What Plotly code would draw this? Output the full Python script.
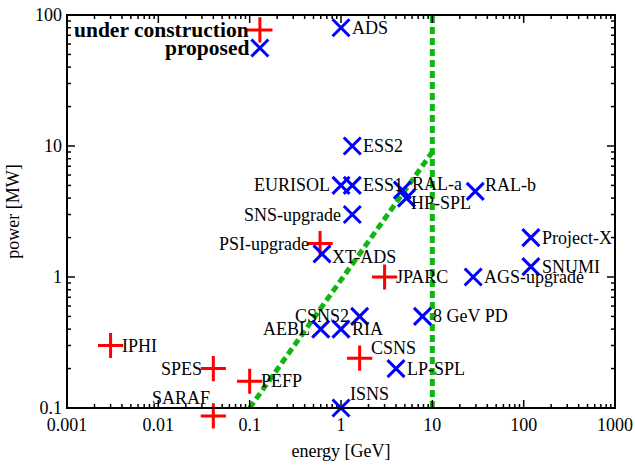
import math
import plotly.graph_objects as go

# ---- data ----
uc_names = ["IPHI", "SPES", "SARAF", "PEFP", "PSI-upgrade", "JPARC", "CSNS"]
uc_energy = [0.003, 0.04, 0.04, 0.1, 0.59, 3.0, 1.6]
uc_power = [0.3, 0.2, 0.087, 0.16, 1.8, 1.0, 0.24]

pr_names = ["ADS", "ESS2", "EURISOL", "ESS1", "SNS-upgrade", "XT-ADS", "RAL-a", "HP-SPL",
            "RAL-b", "Project-X", "SNUMI", "AGS-upgrade", "8 GeV PD", "LP-SPL", "ISNS",
            "CSNS2", "AEBL", "RIA"]
pr_energy = [1.0, 1.33, 1.0, 1.33, 1.33, 0.62, 4.7, 5.2,
             29.5, 120, 120, 28, 7.8, 4.0, 1.0,
             1.6, 0.6, 1.0]
pr_power = [80, 10, 5, 5, 3, 1.5, 4.6, 4.0,
            4.5, 2.0, 1.2, 1.0, 0.5, 0.2, 0.1,
            0.5, 0.4, 0.4]

diag_energy = [0.1, 10]
diag_power = [0.1, 9]
vline_energy = [10, 10]
vline_power = [0.1, 100]

x_ticks = [0.001, 0.01, 0.1, 1, 10, 100, 1000]
x_ticklabels = ["0.001", "0.01", "0.1", "1", "10", "100", "1000"]
y_ticks = [0.1, 1, 10, 100]
y_ticklabels = ["0.1", "1", "10", "100"]

legend_labels = ["under construction", "proposed"]

X_RANGE = [-3, 3]
Y_RANGE = [-1, 2]
x_minor = [m * 10 ** d for d in range(-3, 3) for m in range(2, 10)]
y_minor = [m * 10 ** d for d in range(-1, 2) for m in range(2, 10)]

# ---- layout geometry (px) ----
W, H = 635, 467
ML, MR, MT = 67, 20, 15
PLOT_BOTTOM = 408          # frame bottom
EXT_BOTTOM = 430           # extended area so points just below the frame stay visible
MB = H - EXT_BOTTOM
plot_h = EXT_BOTTOM - MT
frame_h = PLOT_BOTTOM - MT
frame_w = W - ML - MR
y_dom0 = (EXT_BOTTOM - PLOT_BOTTOM) / plot_h
px_per_dec = frame_h / (Y_RANGE[1] - Y_RANGE[0])
Y4_RANGE = [Y_RANGE[0] - (EXT_BOTTOM - PLOT_BOTTOM) / px_per_dec, Y_RANGE[1]]
MAJOR_LEN, MINOR_LEN = 8, 4

# ---- label placement (style, not data): anchor, xshift, yshift ----
R = ("left", 9, 0)
L = ("right", -9, 0)
uc_place = {"IPHI": R, "SPES": L, "SARAF": ("right", -1, 18), "PEFP": R,
            "PSI-upgrade": L, "JPARC": R, "CSNS": ("left", 9, 10)}
pr_place = {"ADS": R, "ESS2": R, "EURISOL": L, "ESS1": R, "SNS-upgrade": L,
            "XT-ADS": ("left", 8, -3), "RAL-a": ("left", 8, 6), "HP-SPL": ("left", 3, -5),
            "RAL-b": ("left", 8, 6), "Project-X": R, "SNUMI": R, "AGS-upgrade": R,
            "8 GeV PD": R, "LP-SPL": R, "ISNS": ("left", 7, 14),
            "CSNS2": L, "AEBL": L, "RIA": R}

FONT = "Liberation Serif"
FS = 18
RED = "#ff0000"
BLUE = "#0000ff"
GREEN = "#11b511"

# legend key position as fractions of the frame
LEG_FX = 0.352
LEG_FY = [0.962, 0.916]
leg_x = [10 ** (X_RANGE[0] + LEG_FX * (X_RANGE[1] - X_RANGE[0]))] * 2
leg_y = [10 ** (Y_RANGE[0] + f * (Y_RANGE[1] - Y_RANGE[0])) for f in LEG_FY]


def xfrac(v):
    return (math.log10(v) - X_RANGE[0]) / (X_RANGE[1] - X_RANGE[0])


def yfrac(v):
    return (math.log10(v) - Y_RANGE[0]) / (Y_RANGE[1] - Y_RANGE[0])


fig = go.Figure()

# inside ticks on all four sides, drawn on an overlay axis pair in frame fractions
tx, ty = [], []
for vals, ln in ((x_ticks, MAJOR_LEN), (x_minor, MINOR_LEN)):
    for v in vals:
        f = xfrac(v)
        tx += [f, f, None, f, f, None]
        ty += [0, ln / frame_h, None, 1, 1 - ln / frame_h, None]
for vals, ln in ((y_ticks, MAJOR_LEN), (y_minor, MINOR_LEN)):
    for v in vals:
        f = yfrac(v)
        tx += [0, ln / frame_w, None, 1, 1 - ln / frame_w, None]
        ty += [f, f, None, f, f, None]
fig.add_trace(go.Scatter(x=tx, y=ty, mode="lines", xaxis="x5", yaxis="y5",
                         line=dict(color="#000000", width=1.5), hoverinfo="skip",
                         showlegend=False, cliponaxis=False, connectgaps=False))

for ex, py in ((vline_energy, vline_power), (diag_energy, diag_power)):
    fig.add_trace(go.Scatter(x=ex, y=py, mode="lines",
                             line=dict(color=GREEN, width=5, dash="7px,4px"),
                             hoverinfo="skip", showlegend=False))

fig.add_trace(go.Scatter(x=uc_energy + [leg_x[0]], y=uc_power + [leg_y[0]], mode="markers",
                         xaxis="x", yaxis="y4",
                         marker=dict(symbol="cross-thin", size=18,
                                     line=dict(color=RED, width=3)),
                         showlegend=False, cliponaxis=False))
fig.add_trace(go.Scatter(x=pr_energy + [leg_x[1]], y=pr_power + [leg_y[1]], mode="markers",
                         xaxis="x", yaxis="y4",
                         marker=dict(symbol="x-thin", size=17,
                                     line=dict(color=BLUE, width=3)),
                         showlegend=False, cliponaxis=False))

annotations = []
for names, ex, py, place in ((uc_names, uc_energy, uc_power, uc_place),
                             (pr_names, pr_energy, pr_power, pr_place)):
    for n, x, y in zip(names, ex, py):
        anc, dx, dy = place[n]
        annotations.append(dict(x=math.log10(x), y=math.log10(y), xref="x", yref="y4",
                                text=n, showarrow=False,
                                xanchor=anc, yanchor="middle", xshift=dx, yshift=dy,
                                font=dict(family=FONT, size=FS, color="black")))
for lab, lx, ly in zip(legend_labels, leg_x, leg_y):
    annotations.append(dict(x=math.log10(lx), y=math.log10(ly), xref="x", yref="y4",
                            text="<b>%s</b>" % lab,
                            showarrow=False, xanchor="right", yanchor="middle", xshift=-9,
                            font=dict(family=FONT, size=21.5, color="black")))

shapes = [dict(type="rect", xref="x domain", yref="y domain", x0=0, x1=1, y0=0, y1=1,
               line=dict(color="#000000", width=2), fillcolor="rgba(0,0,0,0)", layer="above")]

axis_common = dict(showline=False, ticks="", showgrid=False, zeroline=False,
                   automargin=False, tickfont=dict(family=FONT, size=FS, color="black"))

fig.update_layout(
    width=W, height=H,
    margin=dict(l=ML, r=MR, t=MT, b=MB, autoexpand=False),
    paper_bgcolor="white", plot_bgcolor="rgba(0,0,0,0)",
    showlegend=False,
    font=dict(family=FONT, size=FS, color="black"),
    xaxis=dict(type="log", range=X_RANGE, tickvals=x_ticks, ticktext=x_ticklabels,
               anchor="y", ticklabelstandoff=4,
               title=dict(text="energy [GeV]", font=dict(family=FONT, size=FS), standoff=10),
               **axis_common),
    yaxis=dict(type="log", range=Y_RANGE, tickvals=y_ticks, ticktext=y_ticklabels,
               domain=[y_dom0, 1], anchor="x", ticklabelstandoff=4,
               title=dict(text="power [MW]", font=dict(family=FONT, size=FS), standoff=10),
               **axis_common),
    yaxis4=dict(type="log", range=Y4_RANGE, domain=[0, 1], anchor="x", visible=False,
                showgrid=False, zeroline=False, fixedrange=True),
    xaxis5=dict(range=[0, 1], overlaying="x", anchor="y5", visible=False,
                showgrid=False, zeroline=False, fixedrange=True),
    yaxis5=dict(range=[0, 1], overlaying="y", anchor="x5", visible=False,
                showgrid=False, zeroline=False, fixedrange=True),
    shapes=shapes,
    annotations=annotations,
)

fig.write_html("out.html", config={"displayModeBar": False},
               post_script="document.body.style.margin='0';document.body.style.overflow='hidden';")
